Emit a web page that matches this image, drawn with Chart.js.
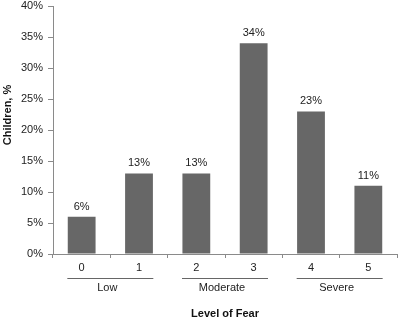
<!DOCTYPE html>
<html>
<head>
<meta charset="utf-8">
<script src="https://cdn.jsdelivr.net/npm/chart.js@4"></script>
<style>
  html, body { margin: 0; padding: 0; background: #fff; }
  #wrap { width: 400px; height: 320px; position: relative; }
</style>
</head>
<body>
<div id="wrap"><canvas id="chart"></canvas></div>
<script>
const levels = ["0", "1", "2", "3", "4", "5"];
const percents = [6, 13, 13, 34, 23, 11];
const yTicks = [0, 5, 10, 15, 20, 25, 30, 35, 40];
const groupNames = ["Low", "Moderate", "Severe"];
const groupFirst = [0, 2, 4];
const groupLast = [1, 3, 5];
const xTitle = "Level of Fear";
const yTitle = "Children, %";

const FONT = "'Liberation Sans', Arial, sans-serif";
const AXIS = "#8a8a8a";

// value labels, group brackets and axis titles
const extras = {
  id: "extras",
  afterDatasetsDraw(chart) {
    const c = chart.ctx;
    const x = chart.scales.x;
    const area = chart.chartArea;
    c.save();
    c.fillStyle = "#222";
    c.font = "11px " + FONT;
    c.textAlign = "center";
    c.textBaseline = "middle";
    chart.getDatasetMeta(0).data.forEach((bar, i) => {
      c.fillText(percents[i] + "%", bar.x, bar.y - 10);
    });

    const half = (x.getPixelForValue(1) - x.getPixelForValue(0)) / 4;
    groupNames.forEach((name, g) => {
      const a = x.getPixelForValue(groupFirst[g]);
      const b = x.getPixelForValue(groupLast[g]);
      c.strokeStyle = "#666";
      c.lineWidth = 1;
      c.beginPath();
      c.moveTo(a - half, area.bottom + 24.5);
      c.lineTo(b + half, area.bottom + 24.5);
      c.stroke();
      c.fillStyle = "#222";
      c.fillText(name, (a + b) / 2 - 3, area.bottom + 34);
    });

    c.font = "bold 11px " + FONT;
    c.fillStyle = "#111";
    c.fillText(xTitle, (area.left + area.right) / 2, area.bottom + 60);
    c.translate(8, 115);
    c.rotate(-Math.PI / 2);
    c.fillText(yTitle, 0, 0);
    c.restore();
  }
};

new Chart(document.getElementById("chart"), {
  type: "bar",
  data: {
    labels: levels,
    datasets: [{
      data: percents,
      backgroundColor: "#676767",
      borderWidth: 0,
      categoryPercentage: 0.97,
      barPercentage: 0.5
    }]
  },
  options: {
    responsive: true,
    maintainAspectRatio: false,
    animation: false,
    layout: { padding: { left: 0, right: 3, top: 0, bottom: 0 } },
    plugins: { legend: { display: false }, tooltip: { enabled: false } },
    scales: {
      x: {
        offset: true,
        afterFit: s => { s.height = 66; },
        border: { color: AXIS, width: 1 },
        grid: { offset: true, drawOnChartArea: false, drawTicks: true, tickLength: 4, color: AXIS },
        ticks: { color: "#222", padding: 3, font: { family: FONT, size: 11 } }
      },
      y: {
        min: 0,
        max: 40,
        afterFit: s => { s.width = 53; s.paddingTop = 6; s.paddingBottom = 0; },
        afterBuildTicks: s => { s.ticks = yTicks.map(v => ({ value: v })); },
        border: { color: AXIS, width: 1 },
        grid: { drawOnChartArea: false, drawTicks: true, tickLength: 5, color: AXIS },
        ticks: {
          color: "#222",
          padding: 5,
          font: { family: FONT, size: 11 },
          callback: v => v + "%"
        }
      }
    }
  },
  plugins: [extras]
});
</script>
</body>
</html>
